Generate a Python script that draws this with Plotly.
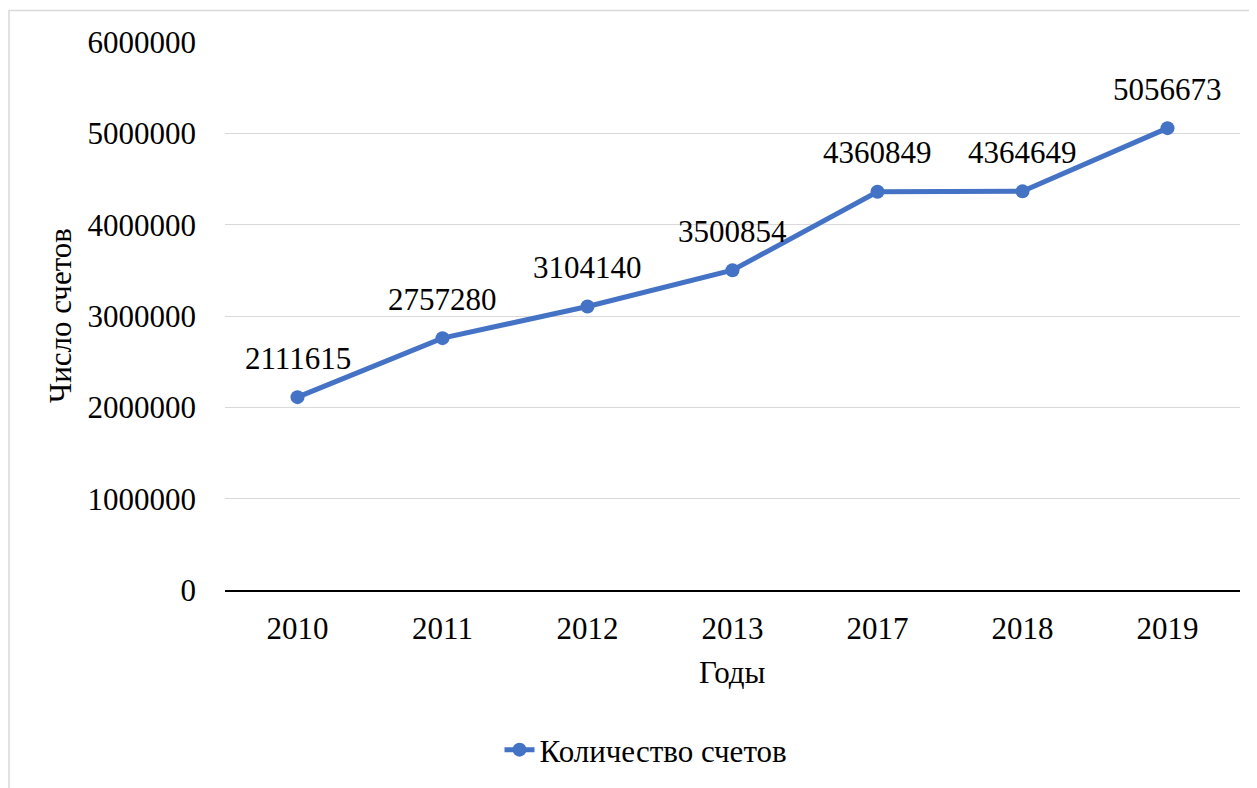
import plotly.graph_objects as go

years = ["2010", "2011", "2012", "2013", "2017", "2018", "2019"]
accounts = [2111615, 2757280, 3104140, 3500854, 4360849, 4364649, 5056673]
y_ticks = [0, 1000000, 2000000, 3000000, 4000000, 5000000, 6000000]
series_name = "Количество счетов"
x_title = "Годы"
y_title = "Число счетов"

FONT = "Liberation Serif, Times New Roman, serif"
BLUE = "#4472C4"
FS = 31

OFF = 8  # page body margin
W, H = 1257, 788
# target screen coordinates of plot area
SX0, SX1, SY0, SY1 = 225, 1240, 42, 590
L = SX0 - OFF
R = W - (SX1 - OFF)
T = SY0 - OFF
B = H - (SY1 - OFF)
pw = SX1 - SX0
ph = SY1 - SY0

def px_x(p):
    return (p - SX0) / pw

def px_y(p):
    return (SY1 - p) / ph

fig = go.Figure()
fig.add_trace(go.Scatter(
    x=years, y=accounts, mode="lines+markers", name=series_name,
    line=dict(color=BLUE, width=5),
    marker=dict(color=BLUE, size=14),
    showlegend=True,
))

annotations = []
for i, v in enumerate(accounts):
    annotations.append(dict(x=i, y=v, xref="x", yref="y", text=str(v), showarrow=False,
                            yshift=39, font=dict(family=FONT, size=FS, color="#000"),
                            xanchor="center", yanchor="middle"))
annotations.append(dict(xref="paper", yref="paper", x=px_x(60), y=0.5,
                        text=y_title, textangle=-90, showarrow=False,
                        font=dict(family=FONT, size=FS, color="#000"),
                        xanchor="center", yanchor="middle"))
annotations.append(dict(xref="paper", yref="paper", x=0.5, y=px_y(672),
                        text=x_title, showarrow=False,
                        font=dict(family=FONT, size=FS, color="#000"),
                        xanchor="center", yanchor="middle"))

fig.update_layout(
    width=W, height=H,
    margin=dict(l=L, r=R, t=T, b=B),
    paper_bgcolor="white", plot_bgcolor="white",
    font=dict(family=FONT, size=FS, color="#000"),
    annotations=annotations,
    legend=dict(orientation="h", x=px_x(646), xanchor="center",
                y=px_y(750), yanchor="middle",
                font=dict(family=FONT, size=FS, color="#000"),
                bgcolor="rgba(0,0,0,0)"),
    xaxis=dict(type="category", categoryorder="array", categoryarray=years,
               range=[-0.5, len(years) - 0.5],
               showgrid=False, showline=True, linecolor="#000", linewidth=1.5,
               ticks="", ticklabelstandoff=10,
               tickfont=dict(family=FONT, size=FS, color="#000")),
    yaxis=dict(range=[0, 6000000], tickvals=y_ticks,
               ticktext=[str(t) for t in y_ticks],
               showgrid=True, gridcolor="#D9D9D9", gridwidth=1.3,
               zeroline=False, showline=False, ticks="",
               ticklabelstandoff=28,
               tickfont=dict(family=FONT, size=FS, color="#000")),
    shapes=[dict(type="rect", xref="paper", yref="paper",
                 x0=px_x(OFF + 1), x1=px_x(1275), y0=px_y(800), y1=px_y(10.5),
                 line=dict(color="#D9D9D9", width=1.5), fillcolor="rgba(0,0,0,0)",
                 layer="below")],
)

fig.write_html("out.html")
